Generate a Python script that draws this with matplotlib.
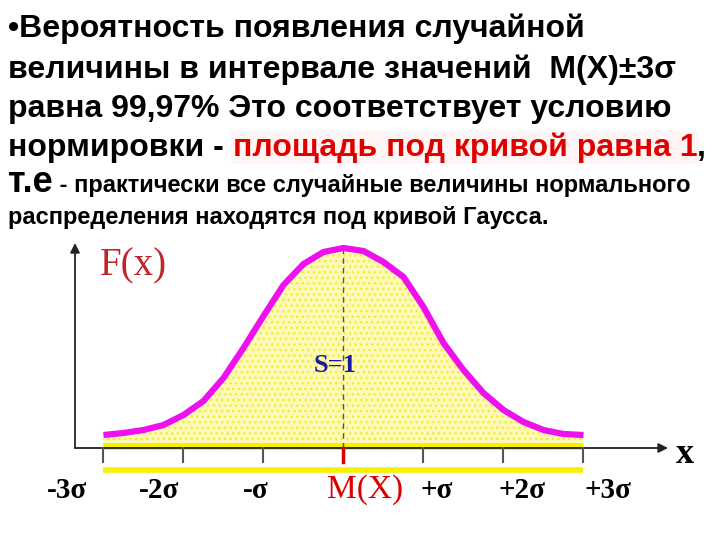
import numpy as np
import matplotlib.pyplot as plt

# curve: position in sigma units, height above the axis
sigma_pos = [-3, -2.75, -2.5, -2.25, -2, -1.75, -1.5, -1.25, -1, -0.75, -0.5, -0.25, 0,
             0.25, 0.5, 0.75, 1, 1.25, 1.5, 1.75, 2, 2.25, 2.5, 2.75, 3]
curve_height = [13, 15, 18, 23, 33, 47, 70, 100, 132, 163, 184, 196, 200,
                197, 186, 171, 141, 105, 78, 55, 38, 26, 18, 14, 13]

tick_pos = [-3, -2, -1, 0, 1, 2, 3]
tick_labels = ["-3σ", "-2σ", "-σ", "M(X)", "+σ", "+2σ", "+3σ"]
label_x = [-3.45, -2.3, -1.1, 0.27, 1.17, 2.23, 3.3]

title_lines = [
    [("•Вероятность появления случайной", 23, "black")],
    [("величины в интервале значений  М(Х)±3σ", 23, "black")],
    [("равна 99,97% Это соответствует условию", 23, "black")],
    [("нормировки - ", 23, "black"), ("площадь под кривой равна 1", 23, "#e00000"),
     (",", 23, "black")],
    [("т.е", 26, "black"), (" - практически все случайные величины нормального", 17, "black")],
    [("распределения находятся под кривой Гаусса.", 17, "black")],
]
line_base = [37, 78, 117, 156, 192, 224]

W, H = 720, 540
fig = plt.figure(figsize=(7.2, 5.4), dpi=100)
renderer = fig.canvas.get_renderer()

# text block at the top, drawn piece by piece so the colours can change mid line
for parts, yb in zip(title_lines, line_base):
    x = 8
    for s, size, color in parts:
        bbox = None
        if color != "black":
            bbox = dict(facecolor="#fff5f5", edgecolor="none", pad=1)
        t = fig.text(x / W, 1 - yb / H, s, fontsize=size, color=color,
                     fontweight="bold", family="Liberation Sans", va="baseline",
                     bbox=bbox)
        x = t.get_window_extent(renderer).x1

# chart area: 1 sigma = 80 px, 1 y unit = 1 px
ax = fig.add_axes([75 / W, 1 - 448 / H, (668 - 75) / W, 205 / H])
ax.set_xlim(-3.356, (668 - 343.5) / 80)
ax.set_ylim(0, 205)
ax.axis("off")

ax.fill_between(sigma_pos, 0, curve_height, facecolor="#fdf9b8", edgecolor="#f4ec30",
                hatch="...", linewidth=0, zorder=1)
ax.fill_between(sigma_pos, 0, np.minimum(curve_height, 5), color="#f8f000",
                linewidth=0, zorder=2)
ax.plot(sigma_pos, curve_height, color="#ee10ee", lw=4.5, solid_joinstyle="round",
        solid_capstyle="butt", zorder=4)
ax.plot([0, 0], [0, max(curve_height)], color="#555555", lw=1, ls=(0, (4, 3)), zorder=3)

# axes with arrows
ax.annotate("", xy=(0, 1), xytext=(0, 0), xycoords="axes fraction",
            arrowprops=dict(arrowstyle="-|>", color="#222222", lw=1.3,
                            mutation_scale=14, shrinkA=0, shrinkB=0))
ax.annotate("", xy=(1, 0), xytext=(0, 0), xycoords="axes fraction",
            arrowprops=dict(arrowstyle="-|>", color="#222222", lw=1.3,
                            mutation_scale=14, shrinkA=0, shrinkB=0))

# yellow base strips
ax.plot([-3, 3], [1.5, 1.5], color="#f8f000", lw=3.5, solid_capstyle="butt",
        zorder=2, clip_on=False)
ax.plot([-3, 3], [-22, -22], color="#f8f000", lw=4, solid_capstyle="butt",
        clip_on=False)

for p in tick_pos:
    c, w = ("#dd0000", 2.5) if p == 0 else ("#555555", 1.5)
    ax.plot([p, p], [0, -14], color=c, lw=w, clip_on=False, zorder=5)

for lx, lab in zip(label_x, tick_labels):
    if lab == "M(X)":
        ax.text(lx, -50, lab, color="#dd0000", fontsize=24, family="Liberation Serif",
                ha="center", va="baseline")
    else:
        ax.text(lx, -50, lab, color="black", fontsize=21, fontweight="bold",
                family="Liberation Serif", ha="center", va="baseline")

ax.text(4.27, -15, "x", fontsize=26, fontweight="bold", family="Liberation Serif",
        ha="center", va="baseline")
ax.text(-3.04, 173, "F(x)", fontsize=28, color="#bf2529", family="Liberation Serif",
        ha="left", va="baseline")
ax.text(-0.1, 76, "S=1", fontsize=19, fontweight="bold", color="#1a1aa0",
        family="Liberation Serif", ha="center", va="baseline", zorder=6)

fig.savefig("out.png", dpi=100)
